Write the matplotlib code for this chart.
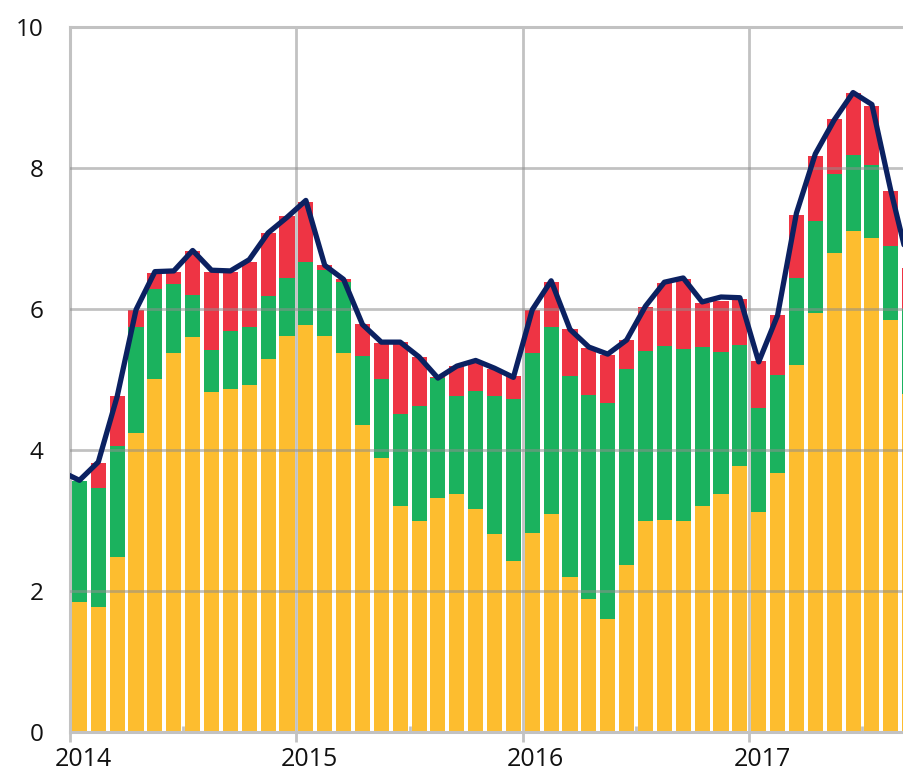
import matplotlib
matplotlib.use("Agg")
import matplotlib.pyplot as plt
import matplotlib.transforms as mtransforms
import numpy as np

# Monthly data, Jan 2014 .. Sep 2017
yellow = [1.84, 1.78, 2.48, 4.24, 5.00, 5.38, 5.60, 4.82, 4.86, 4.92, 5.29, 5.61,
          5.78, 5.61, 5.38, 4.35, 3.89, 3.21, 2.99, 3.32, 3.37, 3.16, 2.81, 2.43,
          2.82, 3.09, 2.20, 1.89, 1.60, 2.37, 3.00, 3.01, 2.99, 3.21, 3.37, 3.77,
          3.12, 3.67, 5.20, 5.95, 6.80, 7.11, 7.00, 5.84, 4.79]
green = [1.72, 1.68, 1.57, 1.50, 1.28, 0.97, 0.60, 0.60, 0.83, 0.83, 0.89, 0.83,
         0.88, 0.94, 1.01, 0.99, 1.11, 1.30, 1.64, 1.70, 1.40, 1.68, 1.96, 2.29,
         2.56, 2.66, 2.85, 2.89, 3.06, 2.78, 2.40, 2.46, 2.44, 2.25, 2.02, 1.72,
         1.47, 1.39, 1.24, 1.30, 1.11, 1.07, 1.04, 1.06, 1.21]
red = [0.00, 0.36, 0.72, 0.24, 0.23, 0.17, 0.62, 1.11, 0.83, 0.92, 0.90, 0.88,
       0.86, 0.07, 0.04, 0.45, 0.52, 1.02, 0.69, 0.01, 0.42, 0.42, 0.38, 0.33,
       0.60, 0.63, 0.66, 0.67, 0.69, 0.41, 0.63, 0.90, 1.00, 0.62, 0.73, 0.65,
       0.67, 0.85, 0.89, 0.92, 0.79, 0.88, 0.84, 0.78, 0.58]
# Line, Dec 2013 .. Sep 2017
line_vals = [3.70,
             3.57, 3.83, 4.76, 5.99, 6.53, 6.54, 6.83, 6.55, 6.54, 6.70, 7.08, 7.30,
             7.54, 6.62, 6.42, 5.78, 5.53, 5.53, 5.32, 5.02, 5.19, 5.27, 5.16, 5.03,
             5.99, 6.40, 5.71, 5.46, 5.36, 5.56, 6.04, 6.38, 6.44, 6.10, 6.17, 6.16,
             5.25, 5.91, 7.36, 8.20, 8.68, 9.07, 8.90, 7.68, 6.58]
year_labels = ["2014", "2015", "2016", "2017"]
y_ticks = [0, 2, 4, 6, 8, 10]

C_YEL = "#fdbd2f"
C_GRN = "#1bb25e"
C_RED = "#ee3444"
C_LINE = "#0b2161"
C_GRID = "#c2c2c2"

plt.rcParams["font.family"] = ["Open Sans", "DejaVu Sans"]

fig = plt.figure(figsize=(9.04, 7.73), dpi=100)
ax = fig.add_axes([70 / 904, 41 / 773, 834 / 904, 705 / 773])

n = len(yellow)
x = np.arange(n) + 0.5
y_arr = np.array(yellow)
g_arr = np.array(green)
r_arr = np.array(red)
w = 0.8
ax.bar(x, y_arr, width=w, color=C_YEL, zorder=2, linewidth=0)
ax.bar(x, g_arr, width=w, bottom=y_arr, color=C_GRN, zorder=2, linewidth=0)
ax.bar(x, r_arr, width=w, bottom=y_arr + g_arr, color=C_RED, zorder=2, linewidth=0)

xl = np.arange(len(line_vals)) - 0.5
ax.plot(xl, line_vals, color=C_LINE, lw=3.8, zorder=4,
        solid_joinstyle="round", solid_capstyle="round")

# horizontal grid over bars (semi-transparent)
for v in y_ticks[1:-1]:
    ax.axhline(v, color="#8f8f8f", alpha=0.55, lw=2.0, zorder=3)
# vertical year grid
for k in range(1, len(year_labels)):
    ax.axvline(12 * k, color=C_GRID, lw=2.0, zorder=1)

ax.set_xlim(0, 44.2)
ax.set_ylim(0, 10)
ax.set_xticks([12 * k for k in range(len(year_labels))])
ax.set_xticklabels(year_labels)
ax.set_xticks([12 * k + 6 for k in range(len(year_labels))], minor=True)
ax.set_yticks(y_ticks)
ax.set_yticklabels([str(v) for v in y_ticks])

ax.tick_params(axis="x", which="major", length=7, width=2, color=C_GRID,
               pad=4, labelsize=18, labelcolor="#111111")
ax.tick_params(axis="x", which="minor", direction="in", length=4, width=2,
               color=C_GRID)
ax.tick_params(axis="y", length=0, pad=19, labelsize=17.5, labelcolor="#111111")

offset = mtransforms.ScaledTranslation(0.13, 0, fig.dpi_scale_trans)
for lab in ax.get_xticklabels():
    lab.set_transform(lab.get_transform() + offset)

for side in ["left", "bottom", "top"]:
    ax.spines[side].set_color(C_GRID)
    ax.spines[side].set_linewidth(2.2)
ax.spines["right"].set_visible(False)
ax.spines["bottom"].set_zorder(5)

fig.savefig("out.png", dpi=100)
